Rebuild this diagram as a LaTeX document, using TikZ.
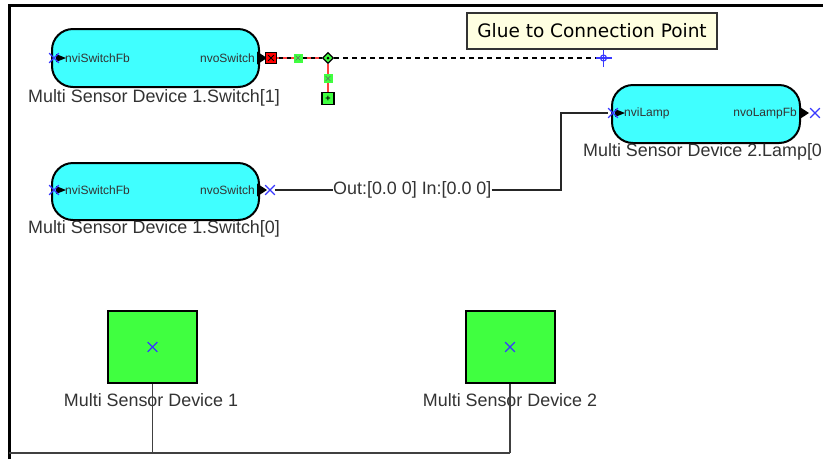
\documentclass[tikz,border=0pt]{standalone}
\usepackage{fontspec}
\setmainfont{Liberation Sans}
\newfontfamily\tipfont{DejaVu Sans}
\usetikzlibrary{shapes.geometric,shapes.misc}
\definecolor{boxcyan}{HTML}{40FFFF}
\definecolor{devgreen}{HTML}{40FF40}
\definecolor{tipyellow}{HTML}{FFFFE1}
\definecolor{xblue}{HTML}{3838FF}
\definecolor{selred}{HTML}{FF4040}
\definecolor{txtgray}{HTML}{333333}
\begin{document}
\begin{tikzpicture}[x=1pt,y=-1pt,
  fbox/.style={draw=black, line width=2pt, fill=boxcyan, rounded corners=21pt,
    minimum width=207pt, minimum height=58pt, inner sep=0pt},
  devbox/.style={draw=black, line width=2pt, fill=devgreen,
    minimum width=89pt, minimum height=72pt, inner sep=0pt},
  lbl/.style={text=txtgray, font=\fontsize{17.9}{18}\selectfont, inner sep=0pt},
  port/.style={text=txtgray, font=\fontsize{12}{12}\selectfont, inner sep=0pt},
  bx/.style={cross out, draw=xblue, line width=1.2pt, minimum size=8.5pt, inner sep=0pt},
  tri/.style={fill=black},
  wire/.style={line width=1.5pt, draw=black!85},
  gsq/.style={fill=devgreen, minimum size=9pt, inner sep=0pt},
]
\useasboundingbox (0,0) rectangle (823,459);
\clip (0,0) rectangle (823,459);
\fill[white] (0,0) rectangle (823,459);

% frame
\draw[line width=3pt] (9,459) -- (9,5.5) -- (823,5.5);

% ---------- Switch[1]
\node[fbox] (sw1) at (155.5,58) {};
\node[lbl] (sw1l) at (154,98) {Multi Sensor Device 1.Switch[1]};
\node[port, anchor=west] (sw1in) at (65,58) {nviSwitchFb};
\node[port, anchor=east] (sw1out) at (255,58) {nvoSwitch};
\fill[tri] (56,54) -- (66,58) -- (56,62) -- cycle;
\node[bx] (sw1x) at (54,58) {};
\fill[tri] (257,51.5) -- (267,58) -- (257,64.5) -- cycle;

% selected (red) connector
\node[draw=black, line width=1.5pt, fill=red, minimum size=11pt, inner sep=0pt] (rsq) at (271,58) {};
\node[cross out, draw=black, line width=0.8pt, minimum size=5pt, inner sep=0pt] at (rsq) {};
\node[diamond, draw=black, line width=1.3pt, fill=devgreen, minimum size=11pt, inner sep=0pt] (dia) at (328,58) {};
\node[draw=black, line width=1.5pt, fill=devgreen, minimum size=12pt, inner sep=0pt] (gend) at (328,98.5) {};
\node[font=\fontsize{9}{9}\selectfont\bfseries, inner sep=0pt] at (gend) {+};
\draw[selred, line width=2pt] (rsq.east) -- (dia.west);
\draw[black, line width=2pt, dash pattern=on 4pt off 4pt, dash phase=-2pt] (rsq.east) -- (dia.west);
\draw[selred, line width=2pt] (dia.south) -- (gend.north);
\node[gsq] (g1) at (298,58) {};
\node[cross out, draw=black!60, line width=0.6pt, minimum size=4pt, inner sep=0pt] at (g1) {};
\node[gsq] (g2) at (328,78.5) {};
\node[cross out, draw=black!60, line width=0.6pt, minimum size=4pt, inner sep=0pt] at (g2) {};
\fill[black] (dia) circle (1.5pt);

% dashed rubber band to glue point
\coordinate (glue) at (603.5,58);
\draw[black, line width=2pt, dash pattern=on 5pt off 4pt] (dia.east) -- ([xshift=-4pt]glue);
\draw[xblue, line width=1.2pt] (glue) circle (3pt);
\draw[xblue, line width=1.2pt] ([xshift=-8pt]glue) -- ([xshift=8pt]glue);
\draw[xblue, line width=1.2pt] ([yshift=-9pt]glue) -- ([yshift=9pt]glue);

% tooltip
\node[draw=black!80, line width=1.5pt, fill=tipyellow, minimum width=250pt, minimum height=36pt,
      inner sep=0pt, font=\tipfont\fontsize{18.5}{20}\selectfont] (tip) at (592,31) {Glue to Connection Point};

% ---------- Lamp[0]
\node[fbox, minimum width=188pt] (lamp) at (706,114) {};
\node[lbl, anchor=west] (lampl) at (583,152) {Multi Sensor Device 2.Lamp[0};
\node[port, anchor=west] (lampin) at (624,113) {nviLamp};
\node[port, anchor=east] (lampout) at (797,113) {nvoLampFb};
\fill[tri] (615,109) -- (625,113) -- (615,117) -- cycle;
\node[bx] (lampx) at (613,113) {};
\fill[tri] (799,106.5) -- (809,113) -- (799,119.5) -- cycle;
\node[bx] (lampox) at (815,113) {};

% ---------- Switch[0]
\node[fbox, minimum height=57pt] (sw0) at (155.5,191.5) {};
\node[lbl] (sw0l) at (154,229) {Multi Sensor Device 1.Switch[0]};
\node[port, anchor=west] (sw0in) at (65,190) {nviSwitchFb};
\node[port, anchor=east] (sw0out) at (255,190) {nvoSwitch};
\fill[tri] (56,186) -- (66,190) -- (56,194) -- cycle;
\node[bx] (sw0x) at (54,190) {};
\fill[tri] (257,183.5) -- (267,190) -- (257,196.5) -- cycle;
\node[bx] (sw0ox) at (270,190) {};

% connector Switch[0] -> Lamp[0]
\node[lbl, anchor=west, text=txtgray] (conn) at (333,190) {Out:[0.0 0] In:[0.0 0]};
\coordinate (bend1) at (561,190);
\coordinate (bend2) at (561,113);
\draw[wire] (sw0ox.east) -- (conn.west);
\draw[wire] (conn.east) -- (bend1) -- (bend2) -- (lampx.west);

% ---------- devices
\node[devbox] (dev1) at (152.5,347) {};
\node[bx] (dev1x) at (dev1) {};
\node[lbl] (dev1l) at (151,400) {Multi Sensor Device 1};
\node[devbox] (dev2) at (510,347) {};
\node[bx] (dev2x) at (dev2) {};
\node[lbl] (dev2l) at (510,400) {Multi Sensor Device 2};
\coordinate (bus1) at (152.5,453);
\coordinate (bus2) at (510,453);
\coordinate (busl) at (9,453);
\draw[wire, draw=black!75] (dev1.south) -- (bus1);
\draw[wire, draw=black!75] (dev2.south) -- (bus2);
\draw[wire, draw=black!75] (busl) -- (bus2);
\end{tikzpicture}
\end{document}
